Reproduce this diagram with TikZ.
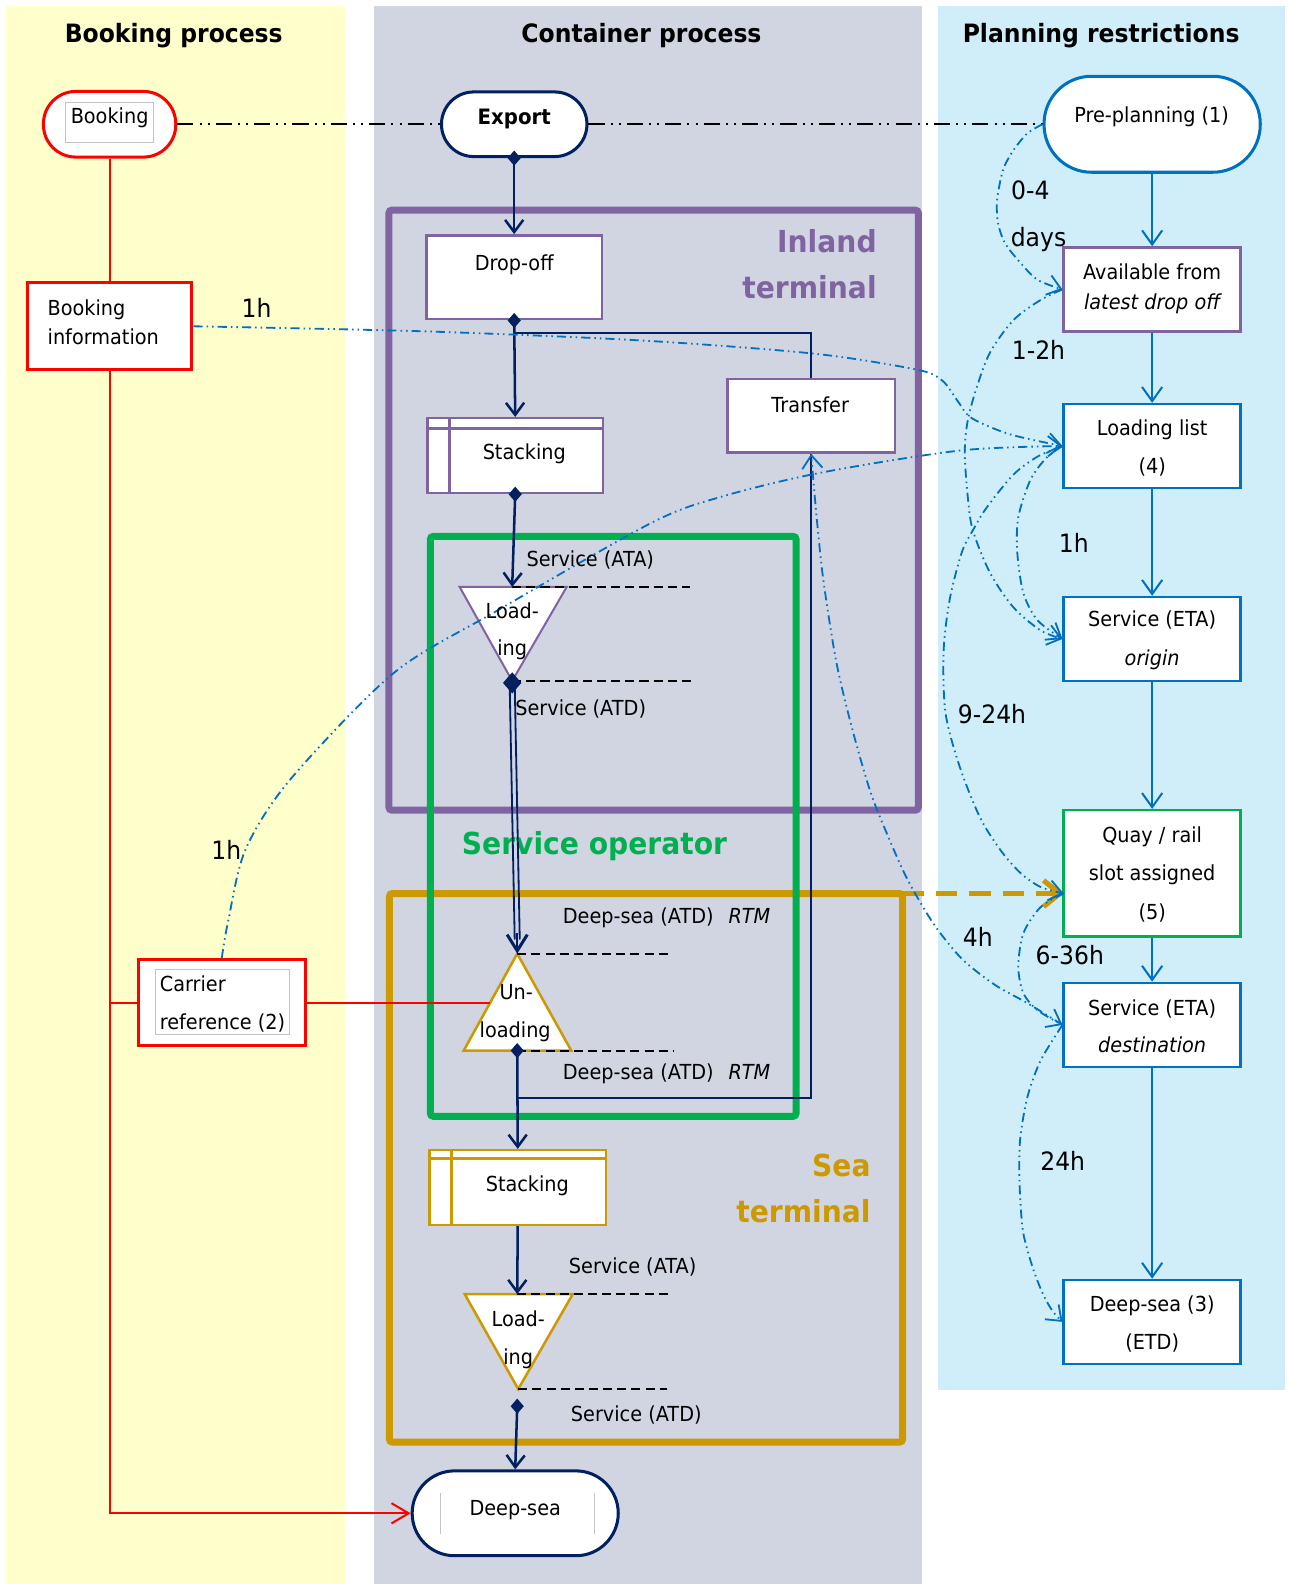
\documentclass[tikz,border=0pt]{standalone}
\usepackage{fontspec}
\setmainfont{DejaVu Sans}[FakeStretch=0.93]
\usetikzlibrary{arrows.meta,calc}
\definecolor{navyC}{HTML}{002060}
\definecolor{blueC}{HTML}{0070C0}
\definecolor{purpC}{HTML}{8064A2}
\definecolor{greenC}{HTML}{00B050}
\definecolor{goldC}{HTML}{CC9900}
\definecolor{redC}{HTML}{FF0000}
\definecolor{laneY}{HTML}{FFFFCC}
\definecolor{laneG}{HTML}{D1D5E2}
\definecolor{laneB}{HTML}{CFEEFA}
\definecolor{innerG}{HTML}{C4C4C4}
\tikzset{
  txt/.style={font=\fontsize{20.5}{24}\selectfont, inner sep=0, anchor=base},
  txtl/.style={txt, anchor=base west},
  lbl/.style={font=\fontsize{25}{30}\selectfont, inner sep=0, anchor=base},
  ttl/.style={font=\fontsize{25}{30}\selectfont\bfseries, inner sep=0, anchor=base},
  bigt/.style={font=\fontsize{30}{36}\selectfont\bfseries, inner sep=0, anchor=base east},
  stadium/.style={draw, fill=white, rounded corners=#1, inner sep=0},
  pbox/.style={draw=blueC, line width=2.5pt, fill=white, minimum width=175pt, minimum height=83pt, inner sep=0},
  cbox/.style={draw=purpC, line width=2.5pt, fill=white, inner sep=0},
  frame/.style={line width=7pt, inner sep=0, outer sep=0},
  flow/.style={navyC, line width=2.5pt, -{Straight Barb[length=12pt,width=18pt,line width=2.5pt]}},
  rline/.style={redC, line width=2pt},
  kd/.style={black, line width=2pt, dash pattern=on 16pt off 6pt on 2pt off 6pt on 2pt off 6pt},
  dd/.style={blueC, line width=1.8pt, dash pattern=on 9pt off 4pt on 1.5pt off 4pt on 1.5pt off 4pt},
  barr/.style={-{Straight Barb[length=13pt,width=20pt,line width=1.8pt]}},
  bflow/.style={blueC, line width=2pt, -{Straight Barb[length=14pt,width=20pt,line width=2pt]}},
  dline/.style={black, line width=2pt, dash pattern=on 9pt off 5pt},
  dmd/.pic={\fill[navyC] (0,-7.5) -- (6.5,0) -- (0,7.5) -- (-6.5,0) -- cycle;}
}
\begin{document}
\begin{tikzpicture}[x=1pt,y=-1pt]
\useasboundingbox (0,0) rectangle (1280,1568);
% lanes
\fill[laneY] (6,6) rectangle (342,1568);
\fill[laneG] (370,6) rectangle (913,1568);
\fill[laneB] (929,6) rectangle (1272,1376);
% titles
\node[ttl] (h1) at (172,42) {Booking process};
\node[ttl] (h2) at (635,42) {Container process};
\node[ttl] (h3) at (1090,42) {Planning restrictions};
% frames
\node[frame, draw=purpC, rounded corners=3pt, minimum width=524pt, minimum height=594pt] (inland) at (647,505) {};
\node[frame, draw=goldC, rounded corners=3pt, minimum width=508pt, minimum height=543pt] (sea) at (639.5,1156) {};
\node[frame, draw=greenC, rounded corners=3pt, minimum width=362pt, minimum height=574pt] (svc) at (607,818) {};
\node[bigt, text=purpC] (fl1) at (868,250) {Inland};
\node[bigt, text=purpC] (fl2) at (868,295) {terminal};
\node[bigt, text=goldC] (fl3) at (862,1165) {Sea};
\node[bigt, text=goldC] (fl4) at (862,1210) {terminal};
\node[bigt, text=greenC, anchor=base west] (fl5) at (457,846) {Service operator};
% booking lane boxes
\node[stadium=32pt, draw=redC, line width=3pt, minimum width=131pt, minimum height=65pt] (booking) at (108.5,123) {};
\draw[innerG, line width=1pt] (65,101) rectangle (152,141);
\node[draw=redC, line width=3pt, fill=white, minimum width=163pt, minimum height=86pt, inner sep=0] (bookinfo) at (108.5,323) {};
\node[draw=redC, line width=3pt, fill=white, minimum width=165pt, minimum height=85pt, inner sep=0] (carrier) at (219.5,992.5) {};
\draw[innerG, line width=1pt] (154,960) rectangle (287,1024);
% container boxes
\node[stadium=32pt, draw=navyC, line width=3pt, minimum width=144pt, minimum height=64pt] (export) at (509,123) {};
\node[cbox, minimum width=174pt, minimum height=83pt] (dropoff) at (509,274.5) {};
\node[cbox, minimum width=174pt, minimum height=74pt] (stack1) at (510,451) {};
\draw[purpC, line width=2.5pt] (stack1.north west |- 0,424) -- (stack1.north east |- 0,424);
\draw[purpC, line width=2.5pt] (445,414) -- (445,488);
\node[cbox, minimum width=166pt, minimum height=73pt] (transfer) at (803,411.5) {};
\coordinate (lAt) at (507,581);
\coordinate (lAb) at (507,674);
\filldraw[fill=white, draw=purpC, line width=2pt] (455,581) -- (561,581) -- (lAb) -- cycle;
\coordinate (uLt) at (512,944);
\coordinate (uLb) at (512,1040);
\filldraw[fill=white, draw=goldC, line width=2.5pt] (459,1040) -- (565.5,1040) -- (uLt) -- cycle;
\node[cbox, draw=goldC, minimum width=175pt, minimum height=74pt] (stack2) at (512.5,1175.5) {};
\draw[goldC, line width=2.5pt] (stack2.north west |- 0,1147) -- (stack2.north east |- 0,1147);
\draw[goldC, line width=2.5pt] (447,1139) -- (447,1212);
\coordinate (lBt) at (512,1281);
\coordinate (lBb) at (513,1375);
\filldraw[fill=white, draw=goldC, line width=2.5pt] (460,1281) -- (567,1281) -- (lBb) -- cycle;
\node[stadium=42pt, draw=navyC, line width=3pt, minimum width=204pt, minimum height=84pt] (deepsea) at (510,1498) {};
\draw[innerG, line width=1pt] (436,1478) -- (436,1518) (588,1478) -- (588,1518);
% planning boxes
\node[stadium=47pt, draw=blueC, line width=3pt, minimum width=214pt, minimum height=95pt] (preplan) at (1140.5,123) {};
\node[pbox, draw=purpC] (avail) at (1140.5,286.5) {};
\node[pbox] (loadlist) at (1140.5,441.5) {};
\node[pbox] (origin) at (1140.5,632.5) {};
\node[pbox, draw=greenC, minimum height=125pt] (quay) at (1140.5,864.5) {};
\node[pbox] (dest) at (1140.5,1014.5) {};
\node[pbox] (ds3) at (1140.5,1308.5) {};
\coordinate (qa) at (1053,884.5);
% dashed level lines
\draw[dline] (lAt) -- (683,581);
\draw[dline] (lAb) -- (688,674);
\draw[dline] (uLt) -- (665,944);
\draw[dline] (uLb) -- (667,1040);
\draw[dline] (lBt) -- (665,1281);
\draw[dline] (lBb) -- (660,1375);
% black dash-dot
\draw[kd] (booking.east) -- (export.west);
\draw[kd] (export.east) -- (preplan.west);
% red lines
\draw[rline] (booking.south) -- (bookinfo.north);
\draw[rline, -{Straight Barb[length=17pt,width=20pt,line width=2pt]}] (bookinfo.south) |- (deepsea.west);
\coordinate (rj) at (108.5,992.5);
\coordinate (uLl) at (485.5,992.5);
\draw[rline] (rj) -- (carrier.west);
\draw[rline] (carrier.east) -- (uLl);
% navy flow
\draw[flow] (export.south) -- (dropoff.north);
\pic at (export.south) {dmd};
\draw[flow] (dropoff.south) -- (stack1.north);
\coordinate (br1) at ($(dropoff.south)+(0,12)$);
\draw[navyC, line width=2pt] (br1) -| (transfer.north);
\pic at (dropoff.south) {dmd};
\draw[flow] (stack1.south) -- (lAt);
\pic at (stack1.south) {dmd};
\draw[navyC, line width=1.8pt] ($(lAb)+(-2.5,2)$) -- ($(uLt)+(-2.5,-14)$);
\draw[navyC, line width=1.8pt] ($(lAb)+(2.5,2)$) -- ($(uLt)+(2.5,-14)$);
\draw[navyC, line width=2.5pt, -{Straight Barb[length=16pt,width=20pt,line width=3pt]}] ($(uLt)+(0,-20)$) -- (uLt);
\pic[scale=1.4] at ($(lAb)+(0,2)$) {dmd};
\draw[flow] (uLb) -- (stack2.north);
\coordinate (br2) at ($(uLb)+(0,47)$);
\draw[navyC, line width=2pt] (br2) -| (transfer.south);
\pic at (uLb) {dmd};
\draw[flow] (stack2.south) -- (lBt);
\coordinate (dB) at (512,1392);
\draw[flow] (dB) -- (deepsea.north);
\pic at (dB) {dmd};
% planning vertical flow
\draw[bflow] (preplan.south) -- (avail.north);
\draw[bflow] (avail.south) -- (loadlist.north);
\draw[bflow] (loadlist.south) -- (origin.north);
\draw[bflow] (origin.south) -- (quay.north);
\draw[bflow] (quay.south) -- (dest.north);
\draw[bflow] (dest.south) -- (ds3.north);
% orange dashed arrow
\draw[goldC, line width=5pt, dash pattern=on 21pt off 12pt, -{Straight Barb[length=16pt,width=26pt,line width=5pt]}] (sea.north east) -- (qa);
% blue dash-dot connectors
\draw[dd, barr] plot[smooth] coordinates {(bookinfo.east) (420,328) (634,337) (805,350) (908,366) (933,377) (948,397) (962,414) (1000,430) (loadlist.west)};
\draw[dd, barr] plot[smooth] coordinates {(carrier.north) (226,911) (243,841) (287,772) (390,666) (493,604) (644,518) (713,492) (812,468) (950,446) (loadlist.west)};
\draw[dd, barr] plot[smooth] coordinates {(preplan.west) (1017,132) (1003,149) (993,168) (987,198) (988,221) (995,241) (1010,260) (1027,277) (avail.west)};
\draw[dd, barr] plot[smooth] coordinates {(avail.west) (1030,297) (1003,317) (980,349) (967,383) (958,416) (955,448) (958,492) (963,525) (980,567) (1003,601) (1030,624) (origin.west)};
\draw[dd, barr] plot[smooth] coordinates {(loadlist.west) (1036,453) (1020,475) (1008,512) (1007,547) (1013,587) (1027,614) (origin.west)};
\draw[dd, barr] plot[smooth] coordinates {(loadlist.west) (1027,452) (1003,470) (977,502) (963,525) (952,547) (940,594) (934,646) (936,706) (950,759) (970,809) (990,841) (1010,864) (1030,878) (qa)};
\draw[dd, barr] plot[smooth] coordinates {(qa) (1030,898) (1013,924) (1008,957) (1013,983) (1027,1000) (dest.west)};
\draw[dd, barr] plot[smooth] coordinates {(dest.west) (1030,1050) (1017,1086) (1010,1126) (1009,1158) (1010,1188) (1013,1221) (1022,1254) (1032,1280) (1042,1298) (ds3.west)};
\draw[dd, barr] plot[smooth] coordinates {(dest.west) (1017,993) (985,975) (953,950) (928,920) (912,895) (896,866) (880,830) (862,785) (844,723) (828,656) (815,574) (808,508) (transfer.south)};
% texts in boxes
\node[txt] (t1) at (108.5,122.5) {Booking};
\node[txt, font=\fontsize{21}{24}\selectfont\bfseries] (t2) at (509,123) {Export};
\node[txt] (t3) at (1140,121.5) {Pre-planning (1)};
\node[txtl] (t4) at (47,312) {Booking};
\node[txtl] (t5) at (47,341) {information};
\node[txtl] (t6) at (158,981) {Carrier};
\node[txtl] (t7) at (158,1019) {reference (2)};
\node[txt] (t8) at (509,268) {Drop-off};
\node[txt] (t9) at (519,455) {Stacking};
\node[txt] (t10) at (802,408) {Transfer};
\node[txt] (t11) at (507,612) {Load-};
\node[txt] (t12) at (507,649) {ing};
\node[txt] (t13) at (511,989) {Un-};
\node[txt] (t14) at (510,1027) {loading};
\node[txt] (t15) at (522,1179) {Stacking};
\node[txt] (t16) at (513,1313) {Load-};
\node[txt] (t17) at (513,1351) {ing};
\node[txt] (t18) at (510,1500) {Deep-sea};
\node[txt] (t19) at (1140.5,277) {Available from};
\node[txt, font=\fontsize{20.5}{24}\selectfont\itshape] (t20) at (1140.5,306) {latest drop off};
\node[txt] (t21) at (1140.5,431) {Loading list};
\node[txt] (t22) at (1140.5,469) {(4)};
\node[txt] (t23) at (1140.5,620) {Service (ETA)};
\node[txt, font=\fontsize{20.5}{24}\selectfont\itshape] (t24) at (1140.5,659) {origin};
\node[txt] (t25) at (1140.5,834) {Quay / rail};
\node[txt] (t26) at (1140.5,872) {slot assigned};
\node[txt] (t27) at (1140.5,910) {(5)};
\node[txt] (t28) at (1140.5,1005) {Service (ETA)};
\node[txt, font=\fontsize{20.5}{24}\selectfont\itshape] (t29) at (1140.5,1042) {destination};
\node[txt] (t30) at (1140.5,1298) {Deep-sea (3)};
\node[txt] (t31) at (1140.5,1336) {(ETD)};
% container labels
\node[txtl] (c1) at (521,561) {Service (ATA)};
\node[txtl] (c2) at (510,708) {Service (ATD)};
\node[txtl] (c3) at (557,914) {Deep-sea (ATD)};
\node[txtl, font=\fontsize{20.5}{24}\selectfont\itshape] (c4) at (721,914) {RTM};
\node[txtl] (c5) at (557,1069) {Deep-sea (ATD)};
\node[txtl, font=\fontsize{20.5}{24}\selectfont\itshape] (c6) at (721,1069) {RTM};
\node[txtl] (c7) at (563,1261) {Service (ATA)};
\node[txtl] (c8) at (565,1407) {Service (ATD)};
% time labels
\node[lbl] (l1) at (254,314) {1h};
\node[lbl] (l2) at (224,851) {1h};
\node[lbl] (l3) at (1020,197) {0-4};
\node[lbl] (l4) at (1028,244) {days};
\node[lbl] (l5) at (1028,356) {1-2h};
\node[lbl] (l6) at (1063,547) {1h};
\node[lbl] (l7) at (982,716) {9-24h};
\node[lbl] (l8) at (968,937) {4h};
\node[lbl] (l9) at (1059,955) {6-36h};
\node[lbl] (l10) at (1052,1159) {24h};
\end{tikzpicture}
\end{document}
